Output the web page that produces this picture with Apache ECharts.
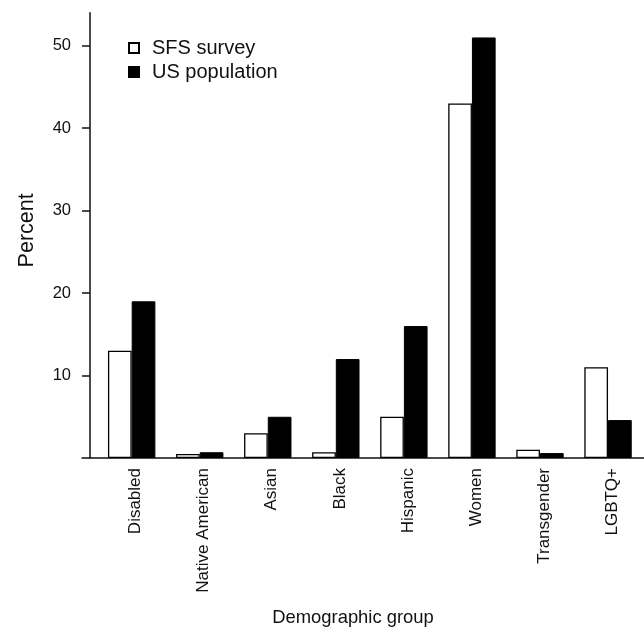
<!DOCTYPE html>
<html>
<head>
<meta charset="utf-8">
<script src="https://cdn.jsdelivr.net/npm/echarts@6/dist/echarts.min.js"></script>
<style>
html,body{margin:0;padding:0;background:#fff;}
#chart{width:644px;height:639px;}
</style>
</head>
<body>
<div id="chart"></div>
<script>
const categories = ['Disabled', 'Native American', 'Asian', 'Black', 'Hispanic', 'Women', 'Transgender', 'LGBTQ+'];
const sfsSurvey = [13, 0.5, 3, 0.7, 5, 43, 1, 11];
const usPopulation = [19, 0.7, 5, 12, 16, 51, 0.6, 4.6];
const yTicks = [10, 20, 30, 40, 50];
const seriesNames = ['SFS survey', 'US population'];

const FONT = '"Liberation Sans", Arial, Helvetica, sans-serif';
const INK = '#111';

const chart = echarts.init(document.getElementById('chart'), null, {renderer: 'canvas'});
chart.setOption({
  animation: false,
  backgroundColor: '#fff',
  textStyle: {fontFamily: FONT, color: INK},
  legend: {
    left: 123,
    top: 33,
    orient: 'vertical',
    itemWidth: 10,
    itemHeight: 10,
    itemGap: 4,
    icon: 'rect',
    data: seriesNames,
    textStyle: {fontFamily: FONT, fontSize: 20, color: INK, padding: [0, 0, 0, 8]}
  },
  grid: [
    {left: 97.65, right: 1.95, top: 12.7, bottom: 181},
    {left: 82, right: 0, top: 12.7, bottom: 181}
  ],
  xAxis: [
    {
      type: 'category',
      gridIndex: 0,
      data: categories,
      axisLine: {show: false},
      axisTick: {show: false},
      axisLabel: {rotate: 90, margin: 10, fontSize: 17, fontFamily: FONT, color: INK, verticalAlign: 'top', lineHeight: 8}
    },
    {
      type: 'value',
      gridIndex: 1,
      min: 0,
      max: 1,
      axisLine: {show: true, onZero: false, lineStyle: {color: INK, width: 1.5}},
      axisTick: {show: false},
      axisLabel: {show: false},
      splitLine: {show: false},
      name: 'Demographic group',
      nameLocation: 'middle',
      nameGap: 151,
      nameTextStyle: {fontSize: 18.4, fontFamily: FONT, color: INK, padding: [0, 20, 0, 0]}
    }
  ],
  yAxis: [
    {
      type: 'value',
      gridIndex: 0,
      min: 0,
      max: 54,
      offset: 7.65,
      axisLine: {show: true, lineStyle: {color: INK, width: 1.5}},
      axisTick: {show: true, length: 8, customValues: yTicks, lineStyle: {color: INK, width: 1.5}},
      axisLabel: {customValues: yTicks, margin: 19, fontSize: 16.5, fontFamily: FONT, color: INK},
      splitLine: {show: false},
      name: 'Percent',
      nameLocation: 'middle',
      nameGap: 52,
      nameTextStyle: {fontSize: 21.5, fontFamily: FONT, color: INK, padding: [0, 0, 0, 10]}
    },
    {
      type: 'value',
      gridIndex: 1,
      show: false,
      min: 0,
      max: 54
    }
  ],
  series: [
    {
      name: seriesNames[0],
      type: 'bar',
      xAxisIndex: 0,
      yAxisIndex: 0,
      data: sfsSurvey,
      barWidth: 23.7,
      barGap: '0%',
      itemStyle: {color: '#fff', borderColor: '#000', borderWidth: 1.3}
    },
    {
      name: seriesNames[1],
      type: 'bar',
      xAxisIndex: 0,
      yAxisIndex: 0,
      data: usPopulation,
      barWidth: 23.7,
      barGap: '0%',
      itemStyle: {color: '#000', borderColor: '#000', borderWidth: 1}
    }
  ]
});
</script>
</body>
</html>
